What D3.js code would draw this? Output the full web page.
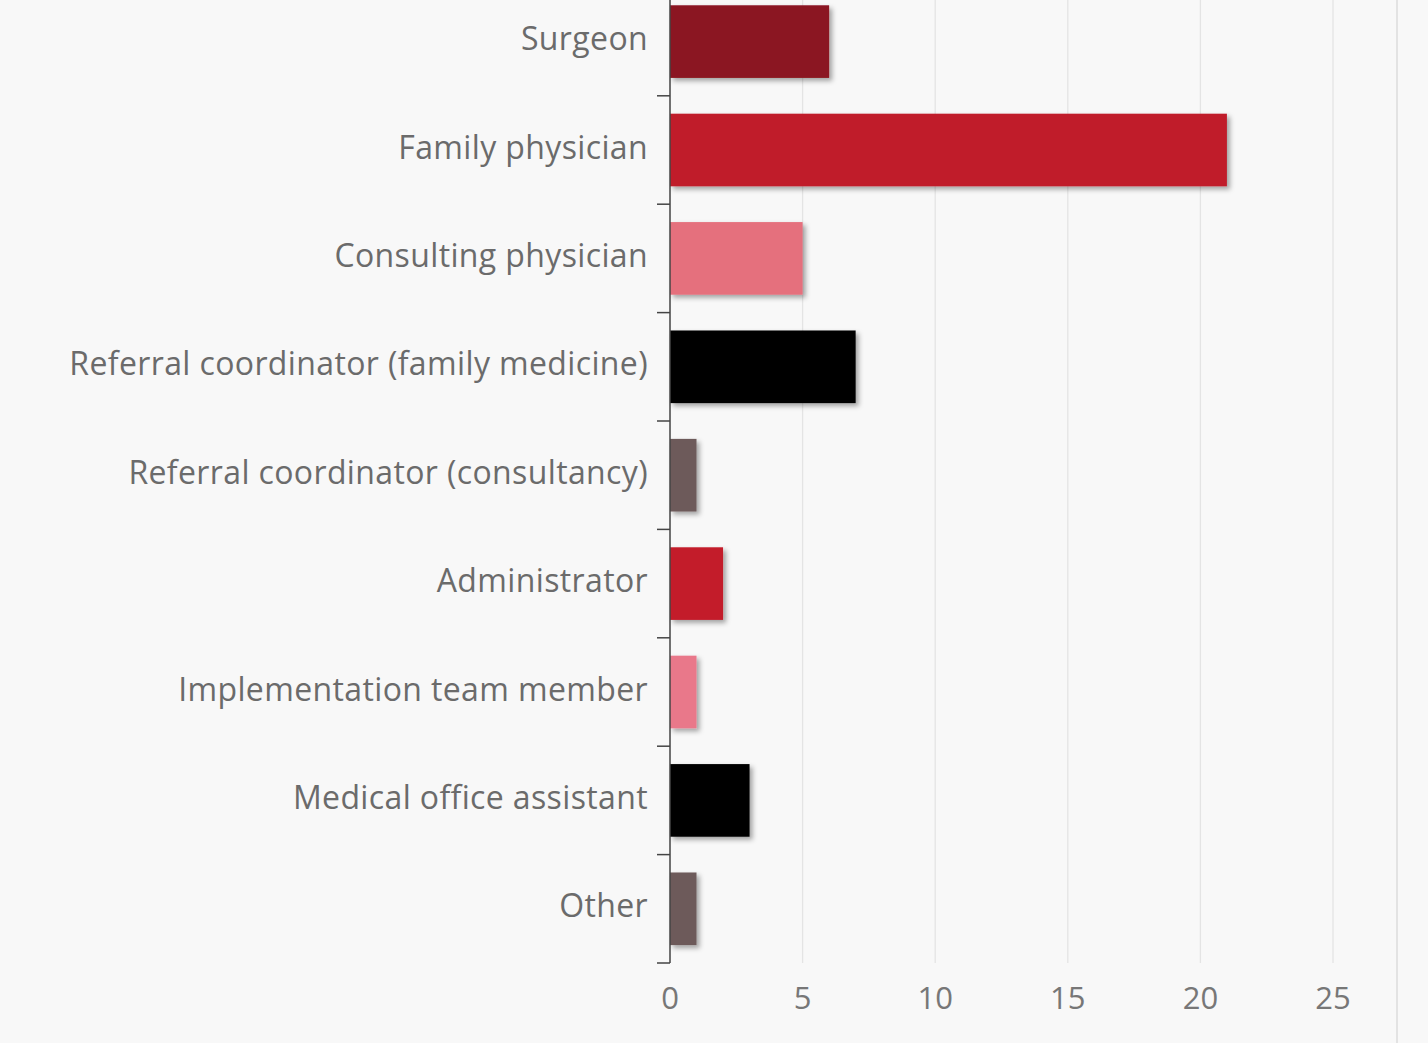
<!DOCTYPE html>
<html><head><meta charset="utf-8">
<script src="https://cdn.jsdelivr.net/npm/d3@7"></script>
<style>
html,body{margin:0;padding:0;background:#f8f8f8;}
svg{display:block;}
</style></head>
<body>
<svg id="chart" width="1428" height="1043"></svg>
<script>
const categories = ["Surgeon","Family physician","Consulting physician","Referral coordinator (family medicine)","Referral coordinator (consultancy)","Administrator","Implementation team member","Medical office assistant","Other"];
const values = [6,21,5,7,1,2,1,3,1];
const colors = ["#8b1520","#c01c2c","#e5707d","#050505","#6d5a5a","#c31d2c","#e9788a","#050505","#6d5a5a"];
const xTicks = [0,5,10,15,20,25];

const svg = d3.select("#chart");
const W = 1428, H = 1043;
svg.append("rect").attr("width",W).attr("height",H).attr("fill","#f8f8f8");

const defs = svg.append("defs");
const f = defs.append("filter").attr("id","shadow").attr("x","-20%").attr("y","-20%").attr("width","150%").attr("height","150%");
f.append("feDropShadow").attr("dx",3).attr("dy",3).attr("stdDeviation",2.5).attr("flood-color","#000").attr("flood-opacity",0.35);

const x = d3.scaleLinear().domain([0,25]).range([670,1333]);
const y = d3.scaleBand().domain(categories).range([-12.6,963]).paddingInner(0.33).paddingOuter(0.165);
const step = y.step();

// gridlines
svg.append("g").selectAll("line").data(xTicks.filter(t=>t>0)).join("line")
  .attr("x1",d=>x(d)).attr("x2",d=>x(d)).attr("y1",0).attr("y2",963)
  .attr("stroke","#e4e4e4").attr("stroke-width",1.3);
// right border
svg.append("line").attr("x1",1397).attr("x2",1397).attr("y1",0).attr("y2",H)
  .attr("stroke","#dcdcdc").attr("stroke-width",1.5);

// bars
svg.append("g").selectAll("rect").data(categories).join("rect")
  .attr("x",x(0)).attr("y",d=>y(d))
  .attr("width",(d,i)=>x(values[i])-x(0)).attr("height",y.bandwidth())
  .attr("fill",(d,i)=>colors[i]).attr("filter","url(#shadow)");

// y axis line and ticks
const yAxis = svg.append("g");
yAxis.append("line").attr("x1",670).attr("x2",670).attr("y1",0).attr("y2",963).attr("stroke","#444").attr("stroke-width",1.5);
const boundaries = categories.map(c=>y(c)+y.bandwidth()+step*0.165);
yAxis.selectAll("line.t").data(boundaries).join("line").attr("class","t")
  .attr("x1",657).attr("x2",670).attr("y1",d=>d).attr("y2",d=>d).attr("stroke","#444").attr("stroke-width",1.5);

// category labels
svg.append("g").selectAll("text").data(categories).join("text")
  .attr("x",648).attr("y",d=>y(d)+y.bandwidth()/2-4)
  .attr("text-anchor","end").attr("dominant-baseline","central")
  .attr("font-family","'Open Sans', sans-serif").attr("font-size",32)
  .attr("letter-spacing",0.37)
  .attr("fill","#6b6b6b").text(d=>d);

// x tick labels
svg.append("g").selectAll("text").data(xTicks).join("text")
  .attr("x",d=>x(d)).attr("y",997)
  .attr("text-anchor","middle").attr("dominant-baseline","central")
  .attr("font-family","'Open Sans', sans-serif").attr("font-size",31)
  .attr("fill","#777").text(d=>d);
</script>
</body></html>
